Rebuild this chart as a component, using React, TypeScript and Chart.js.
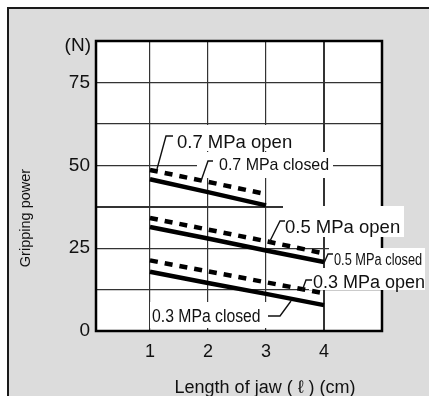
import React, { useEffect, useRef } from 'react';
import { Chart, registerables } from 'chart.js';

Chart.register(...registerables);

// ---- data ----
const lengths = [1, 2, 3, 4];
const open07 = [48.6, 45.0, 41.3, null];
const closed07 = [45.8, 41.9, 37.9, null];
const open05 = [34.1, 30.6, 27.1, 23.4];
const closed05 = [31.4, 27.9, 24.3, 20.8];
const open03 = [21.3, 18.0, 14.7, 11.4];
const closed03 = [17.9, 14.5, 11.2, 7.8];
const xTickValues = [1, 2, 3, 4];
const yTickLabels: Record<string, string> = { '0': '0', '25': '25', '50': '50', '75': '75' };
const yUnit = '(N)';
const yTitle = 'Gripping power';
const xTitle = 'Length of jaw ( ℓ ) (cm)';

const FONT = '"Liberation Sans", Arial, Helvetica, sans-serif';

type Lbl = {
  text: string;
  x: number;
  y: number;
  size: number;
  sx: number;
  box: [number, number, number, number];
  leader: [number, number][];
};

const seriesLabels: Lbl[] = [
  { text: '0.7 MPa open', x: 177, y: 148, size: 18.5, sx: 1, box: [174, 125, 126, 26], leader: [[173, 136], [166, 136], [157, 169]] },
  { text: '0.7 MPa closed', x: 219, y: 170, size: 17, sx: 0.94, box: [197, 152, 136, 26], leader: [[213, 161], [208, 161], [201, 181]] },
  { text: '0.5 MPa open', x: 285, y: 233, size: 18.5, sx: 1, box: [283, 206, 121, 31], leader: [[285, 221], [280, 221], [269, 243]] },
  { text: '0.5 MPa closed', x: 334, y: 265, size: 16, sx: 0.8, box: [329, 248, 96, 20], leader: [[333, 254], [328, 254], [324, 263]] },
  { text: '0.3 MPa open', x: 313, y: 288, size: 18, sx: 1, box: [309, 268, 116, 22], leader: [[312, 280], [306, 280], [302, 291]] },
  { text: '0.3 MPa closed', x: 152, y: 322, size: 17.5, sx: 0.9, box: [150, 302, 118, 26], leader: [[268, 316], [280, 316], [291, 301]] },
];

const toPts = (arr: (number | null)[]) =>
  lengths.map((x, i) => ({ x, y: arr[i] })).filter((p) => p.y !== null) as { x: number; y: number }[];

const decor = {
  id: 'decor',
  beforeDraw(chart: any) {
    const { ctx, width, height, chartArea: a } = chart;
    ctx.save();
    ctx.fillStyle = '#ffffff';
    ctx.fillRect(0, 0, width, height);
    ctx.fillStyle = '#dcdcdc';
    ctx.fillRect(8, 8, width - 8, height - 8);
    ctx.strokeStyle = '#1a1a1a';
    ctx.lineWidth = 2;
    ctx.beginPath();
    ctx.moveTo(8, height);
    ctx.lineTo(8, 8);
    ctx.lineTo(width, 8);
    ctx.stroke();
    ctx.fillStyle = '#ffffff';
    ctx.fillRect(a.left, a.top, a.width, a.height);
    ctx.restore();
  },
  beforeDatasetsDraw(chart: any) {
    const { ctx, chartArea: a } = chart;
    ctx.save();
    ctx.strokeStyle = '#000';
    ctx.lineWidth = 2.5;
    ctx.strokeRect(a.left, a.top, a.width, a.height);
    ctx.fillStyle = '#ffffff';
    for (const l of seriesLabels) ctx.fillRect(l.box[0], l.box[1], l.box[2], l.box[3]);
    ctx.restore();
  },
  afterDatasetsDraw(chart: any) {
    const { ctx } = chart;
    ctx.save();
    ctx.fillStyle = '#111';
    ctx.strokeStyle = '#111';
    ctx.lineWidth = 1.4;
    for (const l of seriesLabels) {
      ctx.beginPath();
      l.leader.forEach((p, i) => (i ? ctx.lineTo(p[0], p[1]) : ctx.moveTo(p[0], p[1])));
      ctx.stroke();
      ctx.save();
      ctx.translate(l.x, l.y);
      ctx.scale(l.sx, 1);
      ctx.font = `${l.size}px ${FONT}`;
      ctx.textAlign = 'left';
      ctx.textBaseline = 'alphabetic';
      ctx.fillText(l.text, 0, 0);
      ctx.restore();
    }
    // unit label
    ctx.font = `19px ${FONT}`;
    ctx.textAlign = 'right';
    ctx.textBaseline = 'middle';
    ctx.fillText(yUnit, 91, 46);
    // y title
    ctx.save();
    ctx.translate(26, 218);
    ctx.rotate(-Math.PI / 2);
    ctx.font = `14.5px ${FONT}`;
    ctx.textAlign = 'center';
    ctx.textBaseline = 'middle';
    ctx.fillText(yTitle, 0, 0);
    ctx.restore();
    // x title
    ctx.font = `18px ${FONT}`;
    ctx.textAlign = 'center';
    ctx.textBaseline = 'alphabetic';
    ctx.fillText(xTitle, 265, 393);
    ctx.restore();
  },
};

export default function App() {
  const ref = useRef<HTMLCanvasElement>(null);
  useEffect(() => {
    if (!ref.current) return;
    const solid = (data: any) => ({
      data,
      borderColor: '#000',
      borderWidth: 4.5,
      pointRadius: 0,
      fill: false,
      tension: 0,
      borderCapStyle: 'butt',
    });
    const dashed = (data: any) => ({
      data,
      borderColor: '#000',
      borderWidth: 4.5,
      borderDash: [8, 7],
      pointRadius: 0,
      fill: false,
      tension: 0,
      borderCapStyle: 'butt',
    });
    const chart = new Chart(ref.current, {
      type: 'line',
      data: {
        datasets: [
          { label: '0.7 MPa open', ...dashed(toPts(open07)) },
          { label: '0.7 MPa closed', ...solid(toPts(closed07)) },
          { label: '0.5 MPa open', ...dashed(toPts(open05)) },
          { label: '0.5 MPa closed', ...solid(toPts(closed05)) },
          { label: '0.3 MPa open', ...dashed(toPts(open03)) },
          { label: '0.3 MPa closed', ...solid(toPts(closed03)) },
        ] as any,
      },
      options: {
        responsive: false,
        animation: false,
        layout: { padding: { left: 0, top: 41, right: 47, bottom: 0 } },
        plugins: { legend: { display: false }, tooltip: { enabled: false }, title: { display: false } },
        scales: {
          x: {
            type: 'linear',
            min: 0.07,
            max: 5.0,
            afterBuildTicks: (s: any) => {
              s.ticks = xTickValues.map((v) => ({ value: v }));
            },
            afterFit: (s: any) => {
              s.height = 65;
            },
            border: { display: false },
            grid: {
              drawTicks: false,
              color: '#333',
              lineWidth: (c: any) => (c.tick && c.tick.value === 4 ? 2 : 1.2),
            },
            ticks: {
              padding: 10,
              color: '#111',
              font: { family: FONT, size: 18 },
              maxRotation: 0,
              autoSkip: false,
              callback: (v: any) => String(v),
            },
          },
          y: {
            type: 'linear',
            min: 0,
            max: 87.5,
            afterFit: (s: any) => {
              s.width = 96;
            },
            border: { display: false },
            grid: {
              drawTicks: false,
              color: '#333',
              lineWidth: (c: any) => (c.tick && c.tick.value === 37.5 ? 2 : 1.2),
            },
            ticks: {
              stepSize: 12.5,
              padding: 6,
              color: '#111',
              font: { family: FONT, size: 19 },
              autoSkip: false,
              callback: (v: any) => yTickLabels[String(v)] ?? '',
            },
          },
        },
      },
      plugins: [decor],
    } as any);
    return () => chart.destroy();
  }, []);
  return (
    <div style={{ position: 'absolute', left: 0, top: 0, width: 429, height: 396 }}>
      <canvas ref={ref} width={429} height={396} style={{ display: 'block' }} />
    </div>
  );
}
